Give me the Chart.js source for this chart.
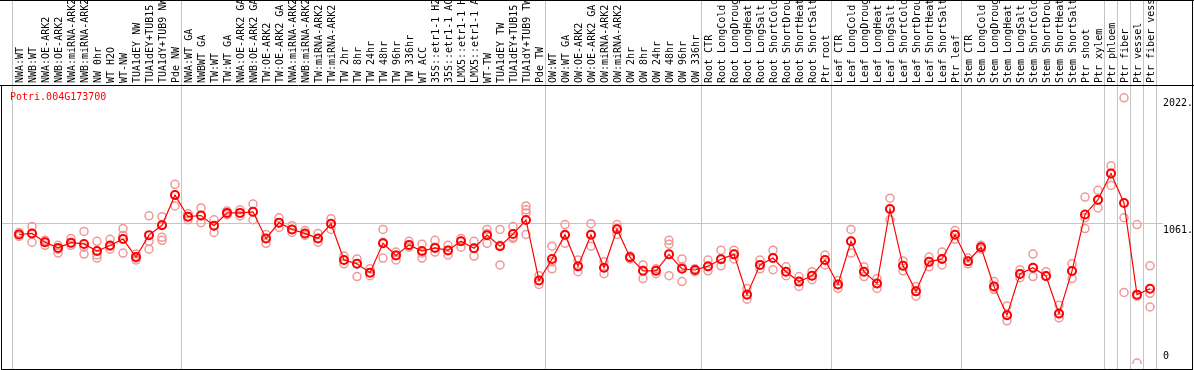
<!DOCTYPE html>
<html>
<head>
<meta charset="utf-8">
<script src="https://cdn.jsdelivr.net/npm/chart.js@4.4.0/dist/chart.umd.min.js"></script>
<style>
  html, body { margin: 0; padding: 0; background: #fff; }
  #wrap { width: 1194px; height: 370px; }
</style>
</head>
<body>
<div id="wrap"><canvas id="chart" width="1194" height="370"></canvas></div>
<script>
// Expression profile of one gene across 88 sample conditions
const geneId = 'Potri.004G173700';

const categories = [
  'NWA:WT', 'NWB:WT', 'NWA:OE-ARK2', 'NWB:OE-ARK2', 'NWA:miRNA-ARK2', 'NWB:miRNA-ARK2',
  'NW 0hr', 'WT H2O', 'WT-NW', 'TUA1dEY NW', 'TUA1dEY+TUB15', 'TUA1dY+TUB9 NW', 'Pde NW',
  'NWA:WT GA', 'NWBWT GA', 'TW:WT', 'TW:WT GA', 'NWA:OE-ARK2 GA', 'NWB:OE-ARK2 GA',
  'TW:OE-ARK2', 'TW:OE-ARK2 GA', 'NWA:miRNA-ARK2', 'NWB:miRNA-ARK2', 'TW:miRNA-ARK2',
  'TW:miRNA-ARK2', 'TW 2hr', 'TW 8hr', 'TW 24hr', 'TW 48hr', 'TW 96hr', 'TW 336hr',
  'WT ACC', '35S::etr1-1 H2', '35S::etr1-1 AC', 'LMX5::etr1-1 H', 'LMX5::etr1-1 A',
  'WT-TW', 'TUA1dEY TW', 'TUA1dEY+TUB15', 'TUA1dY+TUB9 TW', 'Pde TW',
  'OW:WT', 'OW:WT GA', 'OW:OE-ARK2', 'OW:OE-ARK2 GA', 'OW:miRNA-ARK2', 'OW:miRNA-ARK2',
  'OW 2hr', 'OW 8hr', 'OW 24hr', 'OW 48hr', 'OW 96hr', 'OW 336hr',
  'Root CTR', 'Root LongCold', 'Root LongDroug', 'Root LongHeat', 'Root LongSalt',
  'Root ShortCold', 'Root ShortDrou', 'Root ShortHeat', 'Root ShortSalt', 'Ptr root',
  'Leaf CTR', 'Leaf LongCold', 'Leaf LongDroug', 'Leaf LongHeat', 'Leaf LongSalt',
  'Leaf ShortCold', 'Leaf ShortDrou', 'Leaf ShortHeat', 'Leaf ShortSalt', 'Ptr leaf',
  'Stem CTR', 'Stem LongCold', 'Stem LongDroug', 'Stem LongHeat', 'Stem LongSalt',
  'Stem ShortCold', 'Stem ShortDrou', 'Stem ShortHeat', 'Stem ShortSalt', 'Ptr shoot',
  'Ptr xylem', 'Ptr phloem', 'Ptr fiber', 'Ptr vessel', 'Ptr fiber vess'
];

// mean expression per sample
const means = [
  984, 992, 925, 882, 922, 912, 858, 900, 949, 813, 979, 1054, 1283,
  1119, 1128, 1051, 1148, 1148, 1156, 954, 1074, 1022, 992, 954, 1066,
  790, 761, 694, 917, 825, 905, 858, 882, 863, 932, 880, 979, 895, 987, 1094, 634,
  798, 982, 743, 982, 731, 1024, 811, 708, 708, 833, 723, 714,
  743, 796, 833, 527, 753, 805, 701, 626, 671, 790,
  604, 932, 701, 611, 1178, 746, 552, 776, 798, 982,
  781, 887, 589, 371, 684, 731, 669, 383, 706, 1136,
  1248, 1447, 1223, 527, 572
];

// individual replicates
const rep1 = [
  999, 1044, 940, 902, 954, 1007, 932, 947, 1029, 835, 1126, 1119, 1365,
  1141, 1186, 1096, 1163, 1171, 1215, 984, 1111, 1051, 1014, 992, 1104,
  820, 798, 723, 1022, 850, 932, 910, 940, 902, 954, 932, 1022, 1022, 1044, 1201, 671,
  895, 1059, 790, 1066, 776, 1059, 820, 753, 723, 940, 798, 723,
  790, 865, 865, 574, 790, 865, 738, 664, 701, 828,
  634, 1022, 738, 649, 1260, 783, 589, 813, 850, 1014,
  805, 902, 626, 440, 716, 835, 701, 447, 761, 1268,
  1320, 1506, 2022, 1059, 746
];
const rep2 = [
  984, 992, 925, 872, 917, 887, 828, 895, 977, 805, 932, 1059, 1283,
  1119, 1126, 1051, 1148, 1148, 1156, 954, 1074, 1022, 992, 954, 1066,
  790, 761, 694, 925, 828, 902, 843, 887, 865, 932, 880, 992, 902, 962, 1148, 634,
  776, 977, 738, 984, 731, 1029, 813, 708, 708, 910, 738, 716,
  738, 798, 835, 529, 753, 805, 701, 626, 671, 790,
  604, 932, 701, 611, 1178, 746, 552, 776, 798, 984,
  783, 887, 589, 373, 686, 731, 671, 380, 708, 1111,
  1245, 1447, 1111, 515, 537
];
const rep3 = [
  969, 925, 902, 843, 902, 835, 805, 872, 843, 790, 872, 962, 1201,
  1096, 1074, 999, 1133, 1126, 1096, 917, 1037, 999, 977, 925, 1022,
  761, 664, 671, 805, 790, 887, 805, 850, 828, 887, 820, 917, 753, 954, 984, 604,
  723, 917, 701, 895, 686, 984, 798, 649, 686, 671, 626, 701,
  708, 746, 798, 492, 723, 716, 671, 589, 641, 753,
  574, 843, 664, 574, 1096, 708, 515, 738, 753, 947,
  761, 872, 567, 328, 656, 664, 664, 350, 649, 1029,
  1186, 1357, 544, 7, 433
];
// extra replicates where a sample has more than three
const rep4 = new Array(categories.length).fill(null);
rep4[11] = 940;
rep4[39] = 1171;

const yMax = 2112;
const yTicks = [2022, 1061, 0];
const yTickLabels = ['2022.', '1061.', '0'];
const refLine = 1061;
// sample index where each group starts (last one closes the final group)
const groupBreaks = [0, 13, 41, 53, 63, 73, 84, 85, 86, 87, 88];

const MONO = '"DejaVu Sans Mono", "Liberation Mono", monospace';
const REP_COLOR = '#f09898';

const framePlugin = {
  id: 'frame',
  beforeDatasetsDraw(chart) {
    const { ctx, scales: { x, y } } = chart;
    ctx.save();
    ctx.strokeStyle = '#c4c4c4';
    ctx.lineWidth = 1;
    groupBreaks.forEach(b => {
      const px = Math.round(x.getPixelForValue(b - 0.5)) - 0.5;
      ctx.beginPath();
      ctx.moveTo(px, 0);
      ctx.lineTo(px, 369);
      ctx.stroke();
    });
    const ry = Math.round(y.getPixelForValue(refLine)) - 0.5;
    ctx.beginPath();
    ctx.moveTo(1, ry);
    ctx.lineTo(1163, ry);
    ctx.stroke();
    ctx.restore();
  },
  afterDraw(chart) {
    const { ctx, scales: { y } } = chart;
    ctx.save();
    ctx.strokeStyle = '#000';
    ctx.lineWidth = 1;
    ctx.beginPath();
    ctx.moveTo(0, 0.5); ctx.lineTo(1194, 0.5);
    ctx.moveTo(0, 85.5); ctx.lineTo(1194, 85.5);
    ctx.moveTo(1.5, 85); ctx.lineTo(1.5, 369.5);
    ctx.moveTo(1, 369.5); ctx.lineTo(1193, 369.5);
    ctx.moveTo(1192.5, 0); ctx.lineTo(1192.5, 370);
    ctx.stroke();

    ctx.font = '10px ' + MONO;
    ctx.fillStyle = '#000';
    ctx.textAlign = 'left';
    yTicks.forEach((v, i) => {
      const py = y.getPixelForValue(v);
      if (v === 0) {
        ctx.textBaseline = 'bottom';
        ctx.fillText(yTickLabels[i], 1163, py - 3);
      } else {
        ctx.textBaseline = 'top';
        ctx.fillText(yTickLabels[i], 1163, py + 1);
      }
    });

    ctx.fillStyle = '#ff0000';
    ctx.textBaseline = 'middle';
    ctx.fillText(geneId, 10, 97);
    ctx.restore();
  }
};

const repStyle = {
  type: 'line',
  showLine: false,
  pointStyle: 'circle',
  pointRadius: 4,
  pointBorderWidth: 1.5,
  pointBorderColor: REP_COLOR,
  pointBackgroundColor: 'rgba(0,0,0,0)',
  order: 1
};

new Chart(document.getElementById('chart'), {
  type: 'line',
  data: {
    labels: categories,
    datasets: [
      {
        label: 'mean',
        data: means,
        borderColor: '#ff0000',
        borderWidth: 1.2,
        pointStyle: 'circle',
        pointRadius: 4,
        pointBorderWidth: 2,
        pointBorderColor: '#ff0000',
        pointBackgroundColor: 'rgba(0,0,0,0)',
        tension: 0,
        order: 0
      },
      { ...repStyle, label: 'rep1', data: rep1 },
      { ...repStyle, label: 'rep2', data: rep2 },
      { ...repStyle, label: 'rep3', data: rep3 },
      { ...repStyle, label: 'rep4', data: rep4 }
    ]
  },
  options: {
    responsive: false,
    animation: false,
    devicePixelRatio: 1,
    layout: { padding: { left: 12.5, right: 37.5, top: 0, bottom: 1 } },
    plugins: { legend: { display: false }, tooltip: { enabled: false } },
    scales: {
      x: {
        type: 'category',
        position: 'top',
        offset: true,
        grid: { display: false, drawTicks: false },
        border: { display: false },
        ticks: {
          autoSkip: false,
          minRotation: 90,
          maxRotation: 90,
          padding: 3,
          labelOffset: 13,
          color: '#000',
          font: { family: MONO, size: 10 }
        },
        afterFit(scale) { scale.height = 86; }
      },
      y: {
        display: false,
        min: 0,
        max: yMax
      }
    }
  },
  plugins: [framePlugin]
});
</script>
</body>
</html>
